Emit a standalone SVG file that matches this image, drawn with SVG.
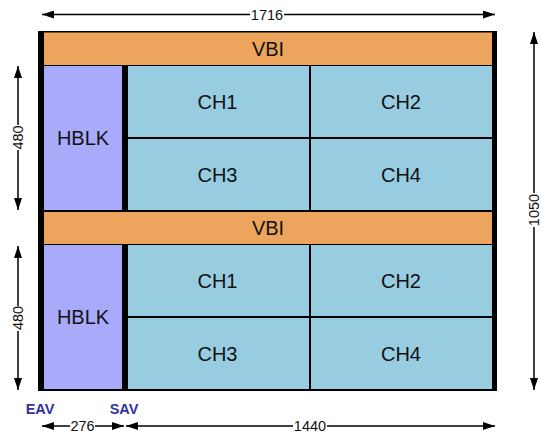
<svg xmlns="http://www.w3.org/2000/svg" width="543" height="434" viewBox="0 0 543 434">
<style>
.vbi{fill:#EDA55E}
.hb{fill:#AAAAFB}
.ch{fill:#97CCE1}
.t{font-family:"Liberation Sans",Arial,sans-serif;font-size:20px;fill:#111;text-anchor:middle;dominant-baseline:central}
.d{font-family:"Liberation Sans",Arial,sans-serif;font-size:14.5px;fill:#111;text-anchor:middle;dominant-baseline:central}
.lab{font-family:"Liberation Sans",Arial,sans-serif;font-size:14.5px;font-weight:bold;fill:#333399;text-anchor:middle}
.dl{stroke:#000;stroke-width:1.5;fill:none;marker-start:url(#ah);marker-end:url(#ah)}
</style>
<defs>
<marker id="ah" viewBox="0 0 12 8" refX="12" refY="4" markerWidth="12" markerHeight="8" markerUnits="userSpaceOnUse" orient="auto-start-reverse">
<path d="M0,0 L12,4 L0,8 Z" fill="#000"/>
</marker>
</defs>
<rect width="543" height="434" fill="#fff"/>
<g id="frame"><rect x="38" y="31" width="459" height="360" fill="#000"/></g>
<g id="vbi1"><rect class="vbi" x="44" y="32.5" width="448" height="32.5"/><text class="t" x="268" y="48.5">VBI</text></g>
<g id="hblk1"><rect class="hb" x="44" y="66" width="78" height="144"/><text class="t" x="83" y="138">HBLK</text></g>
<g id="ch1a"><rect class="ch" x="128" y="66" width="181" height="71"/><text class="t" x="217.5" y="101.5">CH1</text></g>
<g id="ch2a"><rect class="ch" x="311" y="66" width="181" height="71"/><text class="t" x="401" y="101.5">CH2</text></g>
<g id="ch3a"><rect class="ch" x="128" y="139" width="181" height="71"/><text class="t" x="217.5" y="174.5">CH3</text></g>
<g id="ch4a"><rect class="ch" x="311" y="139" width="181" height="71"/><text class="t" x="401" y="174.5">CH4</text></g>
<g id="vbi2"><rect class="vbi" x="44" y="212" width="448" height="32"/><text class="t" x="268" y="228">VBI</text></g>
<g id="hblk2"><rect class="hb" x="44" y="245" width="78" height="144"/><text class="t" x="83" y="317">HBLK</text></g>
<g id="ch1b"><rect class="ch" x="128" y="245" width="181" height="71"/><text class="t" x="217.5" y="280.5">CH1</text></g>
<g id="ch2b"><rect class="ch" x="311" y="245" width="181" height="71"/><text class="t" x="401" y="280.5">CH2</text></g>
<g id="ch3b"><rect class="ch" x="128" y="318" width="181" height="71"/><text class="t" x="217.5" y="353.5">CH3</text></g>
<g id="ch4b"><rect class="ch" x="311" y="318" width="181" height="71"/><text class="t" x="401" y="353.5">CH4</text></g>
<g id="connectors">
<line class="dl" x1="42" y1="14.5" x2="495" y2="14.5"/>
<rect x="250" y="6" width="34" height="17" fill="#fff"/>
<text class="d" x="267" y="14.5">1716</text>
<line class="dl" x1="18" y1="66" x2="18" y2="210"/>
<rect x="10" y="125" width="16" height="25" fill="#fff"/>
<text class="d" transform="translate(18,137.5) rotate(-90)">480</text>
<line class="dl" x1="18" y1="246" x2="18" y2="390"/>
<rect x="10" y="306" width="16" height="25" fill="#fff"/>
<text class="d" transform="translate(18,318) rotate(-90)">480</text>
<line class="dl" x1="534" y1="32" x2="534" y2="390"/>
<rect x="526" y="193" width="16" height="34" fill="#fff"/>
<text class="d" transform="translate(534,210) rotate(-90)">1050</text>
<line class="dl" x1="42" y1="426" x2="124" y2="426"/>
<rect x="70" y="418" width="25" height="16" fill="#fff"/>
<text class="d" x="82.5" y="426">276</text>
<line class="dl" x1="126" y1="426" x2="495" y2="426"/>
<rect x="293" y="418" width="34" height="16" fill="#fff"/>
<text class="d" x="310" y="426">1440</text>
</g>
<text class="lab" x="40" y="413.5">EAV</text>
<text class="lab" x="124" y="413.5">SAV</text>
</svg>
